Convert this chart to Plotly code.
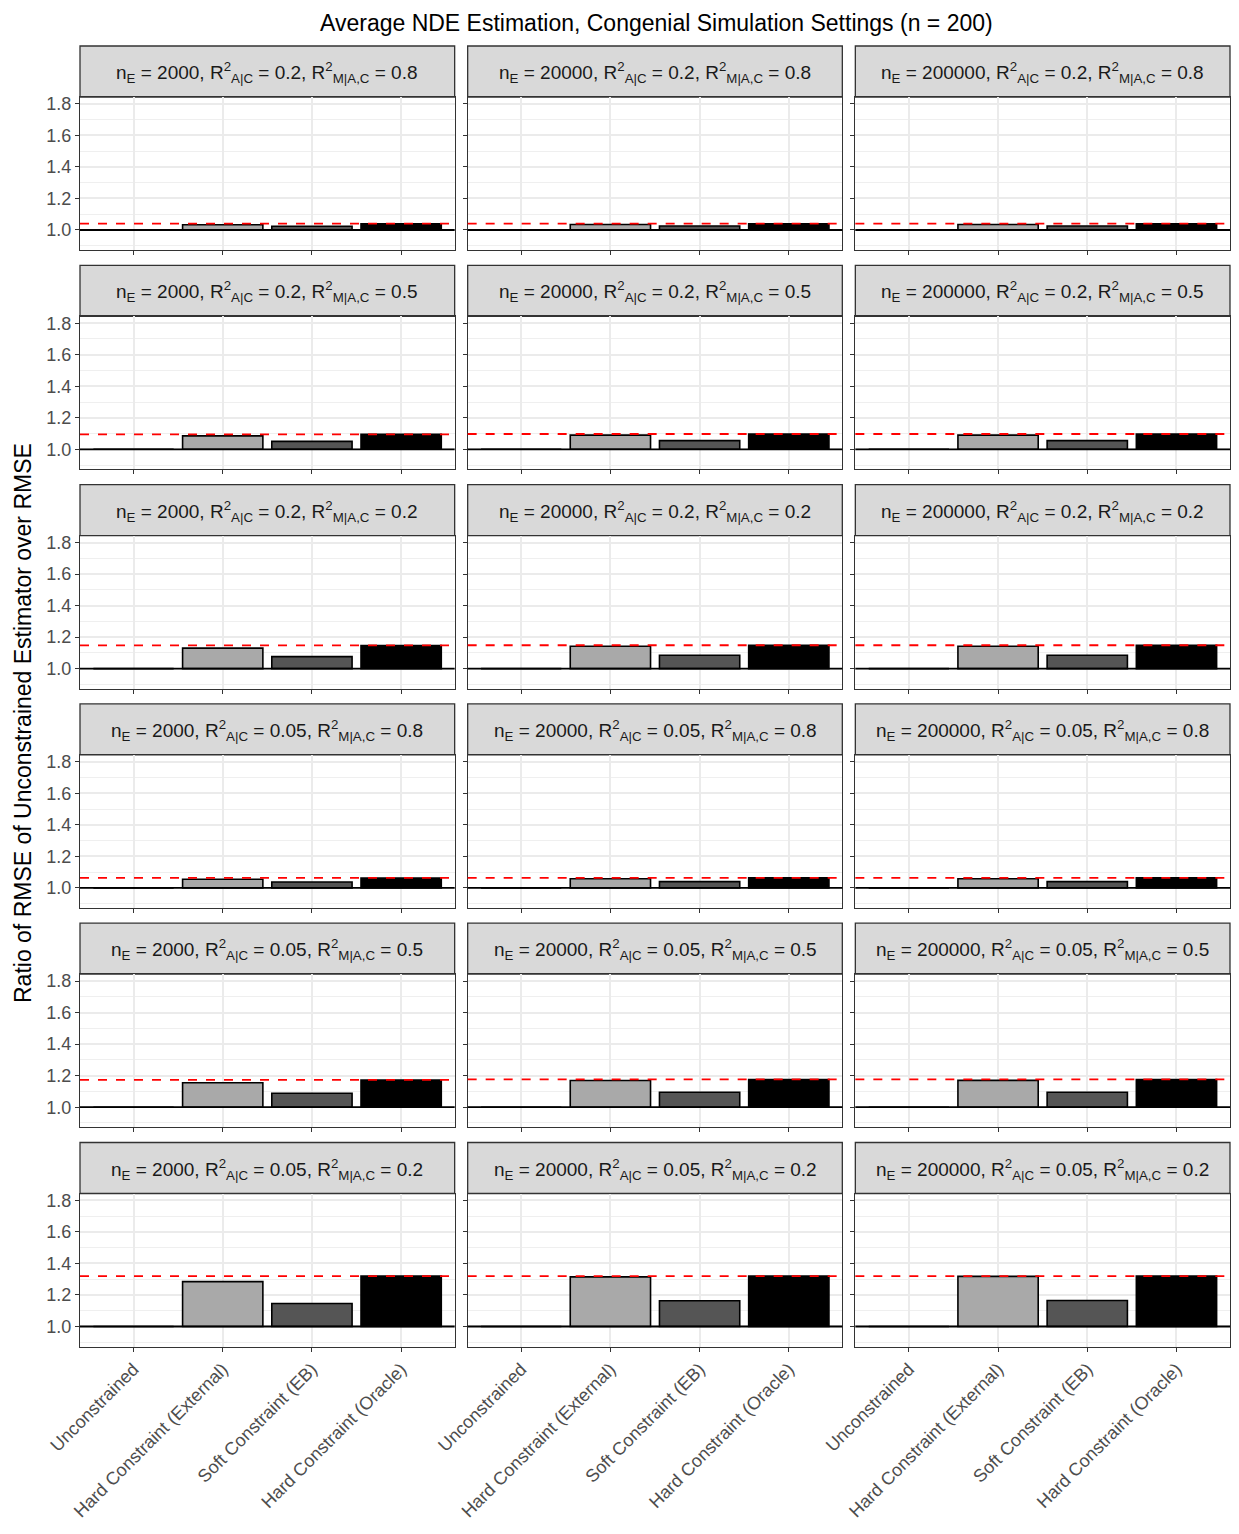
import plotly.graph_objects as go

# ---------------- data ----------------
ne_values = ["2000", "20000", "200000"]
r2_ac = ["0.2", "0.2", "0.2", "0.05", "0.05", "0.05"]
r2_mac = ["0.8", "0.5", "0.2", "0.8", "0.5", "0.2"]
methods = ["Unconstrained", "Hard Constraint (External)", "Soft Constraint (EB)", "Hard Constraint (Oracle)"]
bar_colors = ["#FFFFFF", "#A9A9A9", "#555555", "#000000"]

unconstrained = [[1.0, 1.0, 1.0]] * 6
external = [[1.033, 1.035, 1.035],
            [1.085, 1.090, 1.090],
            [1.130, 1.142, 1.142],
            [1.055, 1.058, 1.058],
            [1.155, 1.169, 1.170],
            [1.285, 1.315, 1.318]]
soft_eb = [[1.024, 1.025, 1.025],
           [1.050, 1.055, 1.055],
           [1.076, 1.085, 1.085],
           [1.037, 1.040, 1.040],
           [1.088, 1.095, 1.095],
           [1.146, 1.163, 1.165]]
oracle = [[1.040, 1.040, 1.040],
          [1.095, 1.097, 1.097],
          [1.147, 1.148, 1.148],
          [1.063, 1.064, 1.064],
          [1.173, 1.176, 1.176],
          [1.320, 1.320, 1.320]]

baseline = 1.0
y_ticks = [1.0, 1.2, 1.4, 1.6, 1.8]
y_minor = [0.9, 1.1, 1.3, 1.5, 1.7]
y_range = [0.873, 1.844]

# ---------------- layout geometry (screen pixels) ----------------
OFF = 8                      # default page body margin
W, H = 1239 - 2 * OFF, 1534 - 2 * OFF   # keep page free of scrollbars
left, right, gap = 80, 1230, 13
pw = (right - left - 2 * gap) / 3
col_px = [(left + i * (pw + gap), left + i * (pw + gap) + pw) for i in range(3)]
panel_top0 = 97
row_pitch = 219.3
panel_h = 153
strip_h = 51
FONT = "Liberation Sans, Arial, Helvetica, sans-serif"

def px_x(x):
    return (x - OFF) / W

def px_y(y):
    return 1 - (y - OFF) / H

fig = go.Figure()
layout_axes = {}
shapes = []
annotations = []

idx = 0
for r in range(6):
    ptop = panel_top0 + r * row_pitch
    pbot = ptop + panel_h
    for c in range(3):
        idx += 1
        xa = "x" if idx == 1 else f"x{idx}"
        ya = "y" if idx == 1 else f"y{idx}"
        xkey = "xaxis" if idx == 1 else f"xaxis{idx}"
        ykey = "yaxis" if idx == 1 else f"yaxis{idx}"
        vals = [unconstrained[r][c], external[r][c], soft_eb[r][c], oracle[r][c]]
        fig.add_trace(go.Bar(
            x=methods, y=[v - baseline for v in vals], base=baseline, width=0.9,
            marker=dict(color=bar_colors, line=dict(color="#000000", width=1.6)),
            xaxis=xa, yaxis=ya, showlegend=False, hoverinfo="x",
        ))
        x0, x1 = col_px[c]
        layout_axes[xkey] = dict(
            domain=[px_x(x0), px_x(x1)], anchor=ya, automargin=False,
            type="category", categoryorder="array", categoryarray=methods,
            range=[-0.6, 3.6],
            showgrid=True, gridcolor="#EBEBEB", gridwidth=2,
            showline=True, mirror=True, linecolor="#333333", linewidth=1.3,
            ticks="outside", ticklen=4, tickcolor="#333333", tickwidth=1.2,
            showticklabels=(r == 5), tickangle=-45,
            tickfont=dict(family=FONT, size=18, color="#4D4D4D"),
            zeroline=False, fixedrange=True,
        )
        layout_axes[ykey] = dict(
            domain=[px_y(pbot), px_y(ptop)], anchor=xa, automargin=False,
            range=y_range,
            tickmode="array", tickvals=y_ticks, ticktext=[f"{v:.1f}" for v in y_ticks],
            showgrid=True, gridcolor="#EBEBEB", gridwidth=2,
            minor=dict(tickmode="array", tickvals=y_minor, showgrid=True,
                       gridcolor="#EFEFEF", gridwidth=1, ticks=""),
            showline=True, mirror=True, linecolor="#333333", linewidth=1.3,
            ticks="outside", ticklen=4, tickcolor="#333333", tickwidth=1.2,
            showticklabels=(c == 0),
            tickfont=dict(family=FONT, size=18, color="#4D4D4D"),
            zeroline=False, fixedrange=True,
        )
        # reference lines
        shapes.append(dict(type="line", xref=f"{xa} domain", yref=ya,
                           x0=0, x1=1, y0=baseline, y1=baseline,
                           line=dict(color="#000000", width=1.8), layer="above"))
        shapes.append(dict(type="line", xref=f"{xa} domain", yref=ya,
                           x0=0, x1=1, y0=oracle[r][c], y1=oracle[r][c],
                           line=dict(color="#FF0000", width=1.8, dash="dash"), layer="above"))
        # strip
        stop = ptop - strip_h
        shapes.append(dict(type="rect", xref="paper", yref="paper",
                           x0=px_x(x0), x1=px_x(x1), y0=px_y(ptop), y1=px_y(stop),
                           fillcolor="#D9D9D9", line=dict(color="#333333", width=1.3),
                           layer="below"))
        label = (f"n<sub>E</sub> = {ne_values[c]}, R<sup>2</sup><sub>A|C</sub> = {r2_ac[r]}, "
                 f"R<sup>2</sup><sub>M|A,C</sub> = {r2_mac[r]}")
        annotations.append(dict(
            text=label, xref="paper", yref="paper",
            x=px_x((x0 + x1) / 2), y=px_y(stop + strip_h / 2 + 1),
            xanchor="center", yanchor="middle", showarrow=False,
            font=dict(family=FONT, size=19, color="#1A1A1A"),
        ))

annotations.append(dict(
    text="Average NDE Estimation, Congenial Simulation Settings (n = 200)",
    xref="paper", yref="paper", x=px_x(656), y=1,
    xanchor="center", yanchor="top", showarrow=False,
    font=dict(family=FONT, size=23, color="#000000"),
))
annotations.append(dict(
    text="Ratio of RMSE of Unconstrained Estimator over RMSE",
    xref="paper", yref="paper", x=px_x(23), y=px_y(723),
    xanchor="center", yanchor="middle", showarrow=False, textangle=-90,
    font=dict(family=FONT, size=23, color="#000000"),
))

fig.update_layout(
    width=W, height=H,
    margin=dict(l=0, r=0, t=0, b=0, autoexpand=False),
    paper_bgcolor="#FFFFFF", plot_bgcolor="#FFFFFF",
    shapes=shapes, annotations=annotations,
    bargap=0.1, showlegend=False,
    **layout_axes,
)

fig.write_html("out.html")
